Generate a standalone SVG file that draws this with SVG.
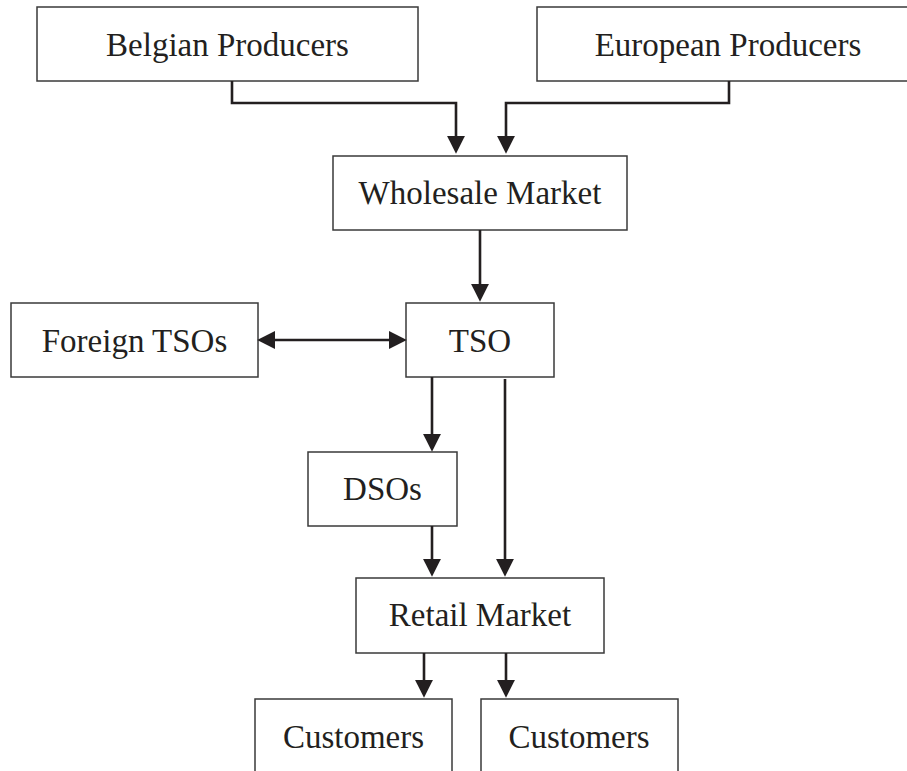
<svg xmlns="http://www.w3.org/2000/svg" width="907" height="771" viewBox="0 0 907 771">
  <style>
    .box { fill: #ffffff; stroke: #3a3a3a; stroke-width: 1.5; }
    .label { font-family: "Liberation Serif", "Times New Roman", serif; font-size: 33px; fill: #231f20; text-anchor: middle; }
    .link { fill: none; stroke: #231f20; stroke-width: 2.6; }
  </style>
  <defs>
    <marker id="head" markerUnits="userSpaceOnUse" markerWidth="18" markerHeight="18" viewBox="0 0 17 17" refX="3" refY="8.5" orient="auto-start-reverse">
      <path d="M0,0 L17,8.5 L0,17 Z" fill="#231f20"/>
    </marker>
  </defs>
  <rect width="907" height="771" fill="#ffffff"/>

  <g id="belgian-producers">
    <rect class="box" x="37" y="7" width="381" height="74"/>
    <text class="label" x="227.5" y="56">Belgian Producers</text>
  </g>
  <g id="european-producers">
    <rect class="box" x="537" y="7" width="390" height="74"/>
    <text class="label" x="728" y="56">European Producers</text>
  </g>
  <g id="wholesale-market">
    <rect class="box" x="333" y="156" width="294" height="74"/>
    <text class="label" x="480" y="204">Wholesale Market</text>
  </g>
  <g id="foreign-tsos">
    <rect class="box" x="11" y="303" width="247" height="74"/>
    <text class="label" x="134.5" y="352">Foreign TSOs</text>
  </g>
  <g id="tso">
    <rect class="box" x="406" y="303" width="148" height="74"/>
    <text class="label" x="480" y="352">TSO</text>
  </g>
  <g id="dsos">
    <rect class="box" x="308" y="452" width="149" height="74"/>
    <text class="label" x="382.5" y="500">DSOs</text>
  </g>
  <g id="retail-market">
    <rect class="box" x="356" y="578" width="248" height="75"/>
    <text class="label" x="480" y="626">Retail Market</text>
  </g>
  <g id="customers-1">
    <rect class="box" x="255" y="699" width="197" height="90"/>
    <text class="label" x="353.5" y="748">Customers</text>
  </g>
  <g id="customers-2">
    <rect class="box" x="481" y="699" width="197" height="90"/>
    <text class="label" x="579" y="748">Customers</text>
  </g>

  <g id="connectors">
    <path class="link" d="M232,81 V103 H456 V139" marker-end="url(#head)"/>
    <path class="link" d="M729,81 V103 H506 V139" marker-end="url(#head)"/>
    <path class="link" d="M480,230 V287" marker-end="url(#head)"/>
    <path class="link" d="M272,340 H392" marker-start="url(#head)" marker-end="url(#head)"/>
    <path class="link" d="M432,377 V437" marker-end="url(#head)"/>
    <path class="link" d="M505,379 V562" marker-end="url(#head)"/>
    <path class="link" d="M432,526 V562" marker-end="url(#head)"/>
    <path class="link" d="M424,653 V683" marker-end="url(#head)"/>
    <path class="link" d="M506,653 V683" marker-end="url(#head)"/>
  </g>
</svg>
